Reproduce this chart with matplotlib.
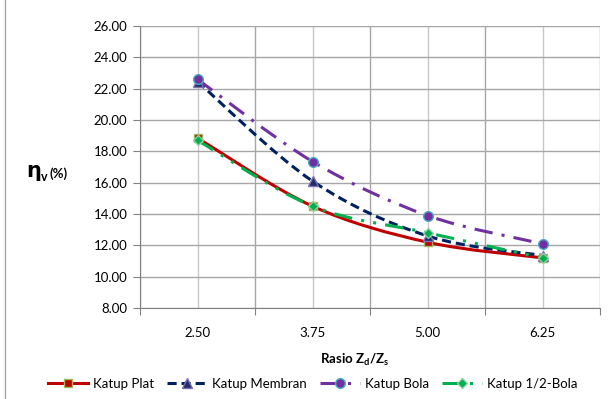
import matplotlib
matplotlib.use("Agg")
import matplotlib.pyplot as plt
from matplotlib.path import Path
from matplotlib.patches import PathPatch, Rectangle
from matplotlib.lines import Line2D

plt.rcParams['font.family'] = ['Lato', 'DejaVu Sans']

# data
categories = ["2.50", "3.75", "5.00", "6.25"]
plat = [18.85, 14.50, 12.20, 11.20]
membran = [22.45, 16.10, 12.60, 11.35]
bola = [22.60, 17.35, 13.90, 12.10]
setengah_bola = [18.70, 14.50, 12.80, 11.20]
y_ticks = [8, 10, 12, 14, 16, 18, 20, 22, 24, 26]


def smooth_path(xs, ys):
    # excel style smoothed line: bezier segments through every point
    pts = list(zip(xs, ys))
    verts = [pts[0]]
    codes = [Path.MOVETO]
    for i in range(len(pts) - 1):
        p0 = pts[i - 1] if i > 0 else pts[i]
        p1 = pts[i]
        p2 = pts[i + 1]
        p3 = pts[i + 2] if i + 2 < len(pts) else pts[i + 1]
        c1 = (p1[0] + (p2[0] - p0[0]) / 6, p1[1] + (p2[1] - p0[1]) / 6)
        c2 = (p2[0] - (p3[0] - p1[0]) / 6, p2[1] - (p3[1] - p1[1]) / 6)
        verts += [c1, c2, p2]
        codes += [Path.CURVE4] * 3
    return Path(verts, codes)


fig = plt.figure(figsize=(6.11, 3.99), dpi=100)
# light frame around the whole chart
fig.patches.append(Rectangle((5 / 611, -0.1), 1.2, 1.1 + 390 / 399 - 0.0 - 0.1,
                             transform=fig.transFigure, fill=False,
                             edgecolor="#A6A6A6", lw=1.0))
ax = fig.add_axes([140 / 611, 91 / 399, 460 / 611, 282 / 399])

x = list(range(len(categories)))
series = [
    ("Katup Plat", plat, "#C00000", "-", "s", "#C00000", "#9BBB59", 6.0),
    ("Katup Membran", membran, "#002060", (0, (3.0, 1.6)), "^", "#1F2D6B", "#7F6FB0", 6.5),
    ("Katup Bola", bola, "#7030A0", (0, (6, 3, 1, 3)), "o", "#7030A0", "#4BACC6", 7.0),
    ("Katup 1/2-Bola", setengah_bola, "#00B050", (0, (6, 3, 1, 3, 1, 3)), "D", "#00B050", "#92D0A0", 5.5),
]

handles = []
for name, vals, col, ls, mk, mfc, mec, ms in series:
    patch = PathPatch(smooth_path(x, vals), fill=False, edgecolor=col,
                      lw=2.2, linestyle=ls, zorder=3, capstyle="butt")
    ax.add_patch(patch)
    ax.plot(x, vals, linestyle="none", marker=mk, markersize=ms,
            markerfacecolor=mfc, markeredgecolor=mec, markeredgewidth=1.0, zorder=4)
    handles.append(Line2D([], [], color=col, lw=2.2, linestyle=ls, marker=mk,
                          markersize=ms, markerfacecolor=mfc, markeredgecolor=mec,
                          markeredgewidth=1.0, label=name))

ax.set_xlim(-0.5, len(categories) - 0.5)
ax.set_ylim(8, 26)
ax.set_yticks(y_ticks)
ax.set_yticklabels([f"{v:.2f}" for v in y_ticks])
ax.set_xticks([i - 0.5 for i in range(len(categories) + 1)])
ax.set_xticklabels([])
ax.set_xticks(x, minor=True)
ax.set_xticklabels(categories, minor=True)
ax.tick_params(axis="x", which="minor", length=0, pad=14, labelsize=9.5)
ax.tick_params(axis="x", which="major", length=5, color="#808080", direction="out")
ax.tick_params(axis="y", length=5, color="#808080", labelsize=9.5, pad=4)

ax.grid(True, which="major", color="#A6A6A6", lw=1.0, zorder=0)
ax.grid(True, which="minor", axis="x", color="#C8C8C8", lw=1.0, zorder=0)
ax.set_axisbelow(True)
for s in ["top", "right"]:
    ax.spines[s].set_visible(False)
for s in ["left", "bottom"]:
    ax.spines[s].set_color("#808080")

fig.text(355 / 611, 1 - 360 / 399, r"Rasio Z$_\mathregular{d}$/Z$_\mathregular{s}$",
         ha="center", va="center", fontsize=9.5, fontweight="bold")
# y label: eta with subscript v, then (%)
fig.text(26 / 611, 1 - 171 / 399, "η", ha="left", va="center",
         fontsize=15, fontweight="bold", family=["DejaVu Sans"])
fig.text(41 / 611, 1 - 177 / 399, "v", ha="left", va="center",
         fontsize=9, fontweight="bold")
fig.text(49 / 611, 1 - 174 / 399, "(%)", ha="left", va="center",
         fontsize=9.5, fontweight="bold")

fig.legend(handles=handles, loc="center", bbox_to_anchor=(313 / 611, 1 - 384 / 399),
           ncol=4, frameon=False, fontsize=9.5, handlelength=3.0, columnspacing=1.0,
           handletextpad=0.4)

fig.savefig("out.png", dpi=100)
